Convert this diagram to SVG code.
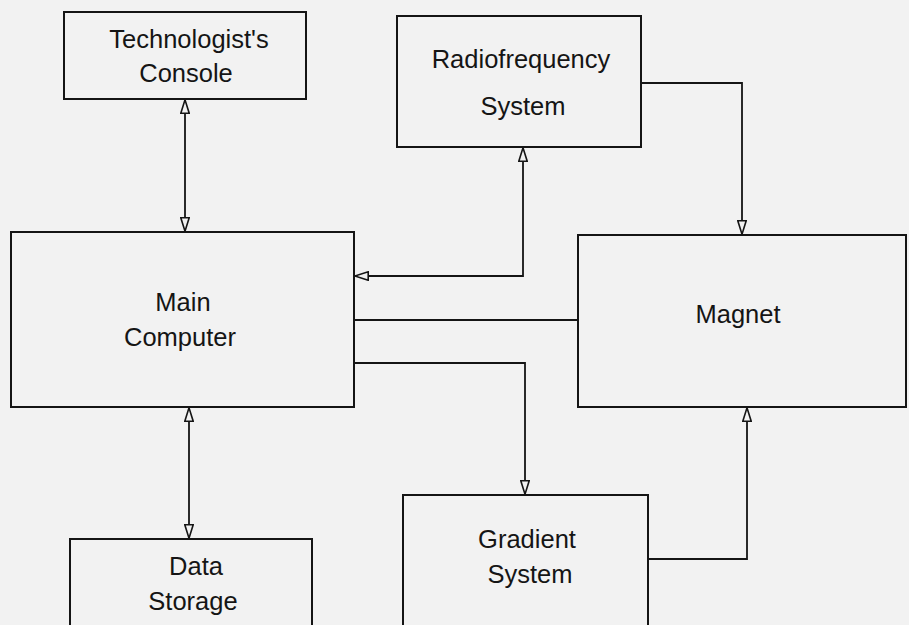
<svg xmlns="http://www.w3.org/2000/svg" width="909" height="625" viewBox="0 0 909 625">
<style>
.box{fill:none;stroke:#151515;stroke-width:2}
.lbl{font-family:"Liberation Sans",Arial,sans-serif;font-size:25.5px;fill:#151515;text-anchor:middle}
.con{fill:none;stroke:#151515;stroke-width:1.8}
</style>
<defs>
<marker id="arr" viewBox="0 0 15 10" refX="15" refY="5" markerWidth="15" markerHeight="10" markerUnits="userSpaceOnUse" orient="auto-start-reverse">
<path d="M0.8,0.8 L14.2,5 L0.8,9.2 z" fill="#f2f2f2" stroke="#151515" stroke-width="1.6"/>
</marker>
</defs>
<rect width="909" height="625" fill="#f2f2f2"/>
<g id="console">
<rect class="box" x="64" y="12" width="242" height="87"/>
<text class="lbl" x="189" y="48">Technologist's</text>
<text class="lbl" x="186" y="82">Console</text>
</g>
<g id="rf">
<rect class="box" x="397" y="16" width="244" height="131"/>
<text class="lbl" x="521" y="68">Radiofrequency</text>
<text class="lbl" x="523" y="115">System</text>
</g>
<g id="main">
<rect class="box" x="11" y="232" width="343" height="175"/>
<text class="lbl" x="183" y="311">Main</text>
<text class="lbl" x="180" y="346">Computer</text>
</g>
<g id="magnet">
<rect class="box" x="578" y="235" width="328" height="172"/>
<text class="lbl" x="738" y="323">Magnet</text>
</g>
<g id="gradient">
<rect class="box" x="403" y="495" width="245" height="150"/>
<text class="lbl" x="527" y="548">Gradient</text>
<text class="lbl" x="530" y="583">System</text>
</g>
<g id="storage">
<rect class="box" x="70" y="539" width="242" height="110"/>
<text class="lbl" x="196" y="575">Data</text>
<text class="lbl" x="193" y="610">Storage</text>
</g>
<g id="connectors">
<path class="con" d="M185,99 L185,232" marker-start="url(#arr)" marker-end="url(#arr)"/>
<path class="con" d="M523,147 L523,276 L354,276" marker-start="url(#arr)" marker-end="url(#arr)"/>
<path class="con" d="M641,83 L742,83 L742,235" marker-end="url(#arr)"/>
<path class="con" d="M354,320 L578,320"/>
<path class="con" d="M354,363 L525,363 L525,495" marker-end="url(#arr)"/>
<path class="con" d="M648,559 L747,559 L747,407" marker-end="url(#arr)"/>
<path class="con" d="M189,407 L189,539" marker-start="url(#arr)" marker-end="url(#arr)"/>
</g>
</svg>
